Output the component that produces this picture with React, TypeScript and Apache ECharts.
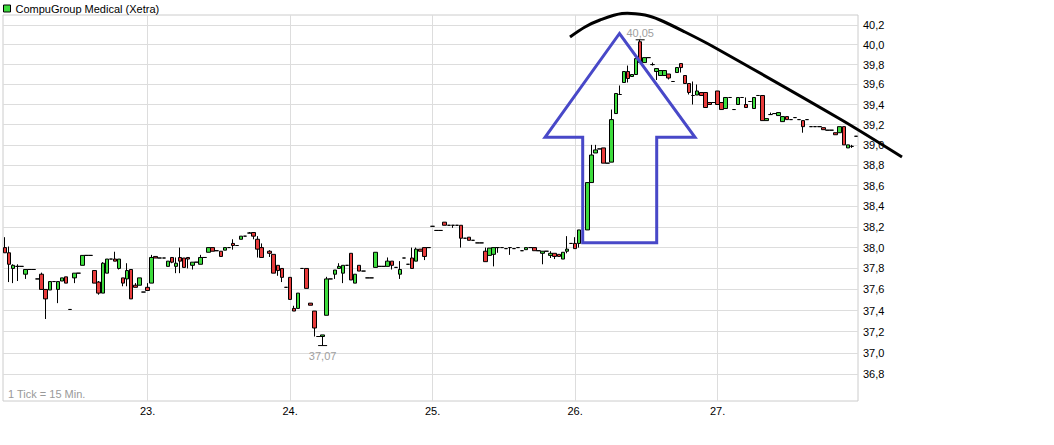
import React, { useEffect, useRef } from "react";
import * as echarts from "echarts";

const SERIES_NAME = "CompuGroup Medical (Xetra)";

// trading days (first one is not labelled on the axis)
const days = ["20.", "23.", "24.", "25.", "26.", "27."];
// 15-minute slots of one Xetra session
const times = [
  "09:00", "09:15", "09:30", "09:45", "10:00", "10:15", "10:30", "10:45",
  "11:00", "11:15", "11:30", "11:45", "12:00", "12:15", "12:30", "12:45",
  "13:00", "13:15", "13:30", "13:45", "14:00", "14:15", "14:30", "14:45",
  "15:00", "15:15", "15:30", "15:45", "16:00", "16:15", "16:30", "16:45",
  "17:00", "17:15", "17:30",
];

// price tick labels of the right axis
const yTicks = [36.8, 37.0, 37.2, 37.4, 37.6, 37.8, 38.0, 38.2, 38.4, 38.6, 38.8, 39.0, 39.2, 39.4, 39.6, 39.8, 40.0, 40.2];

// [open, close, low, high]
type C = number[] | "-";
const day20: C[] = [
  [38.0, 37.95, 37.95, 38.1], [37.95, 37.84, 37.67, 38.01], [37.8, 37.83, 37.66, 37.84], [37.82, 37.82, 37.68, 37.84],
  [37.82, 37.82, 37.82, 37.82], [37.745, 37.79, 37.7, 37.79], [37.79, 37.79, 37.79, 37.79], [37.79, 37.79, 37.79, 37.79],
  [37.7, 37.7, 37.7, 37.7], [37.745, 37.6, 37.6, 37.76], [37.6, 37.51, 37.32, 37.6], [37.595, 37.675, 37.595, 37.675],
  [37.675, 37.675, 37.675, 37.675], [37.6, 37.675, 37.47, 37.675], [37.68, 37.71, 37.68, 37.71], [37.72, 37.66, 37.66, 37.72],
  [37.41, 37.41, 37.41, 37.41], [37.71, 37.755, 37.66, 37.755], [37.755, 37.755, 37.755, 37.755], [37.83, 37.925, 37.83, 37.925],
  [37.925, 37.925, 37.925, 37.925], [37.925, 37.925, 37.925, 37.925], [37.78, 37.66, 37.66, 37.78], [37.67, 37.565, 37.55, 37.68],
  [37.565, 37.85, 37.565, 37.86], [37.755, 37.89, 37.755, 37.89], [37.89, 37.89, 37.89, 37.89], [37.89, 37.87, 37.87, 37.96],
  [37.8, 37.89, 37.79, 37.89], [37.71, 37.66, 37.63, 37.71], [37.7, 37.78, 37.63, 37.85], [37.79, 37.51, 37.51, 37.79],
  [37.64, 37.62, 37.62, 37.66], [37.64, 37.71, 37.64, 37.71], [37.575, 37.575, 37.575, 37.575],
];
const day23: C[] = [
  [37.62, 37.59, 37.59, 37.66], [37.66, 37.905, 37.66, 37.93], [37.915, 37.9, 37.9, 37.915], [37.9, 37.9, 37.9, 37.9],
  [37.9, 37.9, 37.9, 37.9], [37.82, 37.87, 37.82, 37.87], [37.905, 37.86, 37.85, 37.905], [37.82, 37.85, 37.755, 37.905],
  [37.905, 37.87, 37.755, 38.0], [37.9, 37.81, 37.81, 37.9], [37.905, 37.89, 37.8, 37.905], [37.83, 37.86, 37.79, 37.86],
  [37.86, 37.86, 37.86, 37.86], [37.84, 37.905, 37.84, 37.93], [37.905, 37.905, 37.905, 37.905], [37.955, 38.0, 37.955, 38.0],
  [38.0, 37.965, 37.965, 38.0], [37.97, 37.97, 37.97, 37.97], [37.965, 37.915, 37.915, 37.965], [37.975, 38.0, 37.975, 38.0],
  [38.0, 38.0, 38.0, 38.0], [38.04, 38.02, 37.98, 38.08], [38.02, 38.02, 38.02, 38.02], [38.08, 38.11, 38.08, 38.11],
  [38.11, 38.11, 38.11, 38.11], [38.14, 38.14, 38.14, 38.15], [38.145, 38.11, 38.08, 38.145], [38.08, 37.985, 37.905, 38.11],
  [38.0, 37.905, 37.905, 38.04], "-", [37.965, 37.945, 37.91, 37.975], [37.935, 37.755, 37.755, 37.935],
  [37.83, 37.78, 37.73, 37.83], [37.8, 37.715, 37.67, 37.8], [37.62, 37.62, 37.62, 37.62],
];
const day24: C[] = [
  [37.715, 37.505, 37.505, 37.715], [37.42, 37.395, 37.395, 37.445], [37.42, 37.565, 37.42, 37.565], [37.8, 37.8, 37.8, 37.8],
  [37.8, 37.61, 37.61, 37.8], [37.47, 37.45, 37.45, 37.47], [37.395, 37.235, 37.155, 37.395], [37.155, 37.155, 37.155, 37.155],
  [37.155, 37.17, 37.07, 37.17], [37.355, 37.7, 37.355, 37.72], [37.7, 37.7, 37.7, 37.7], [37.745, 37.785, 37.7, 37.785],
  [37.8, 37.82, 37.8, 37.85], [37.755, 37.83, 37.66, 37.83], [37.83, 37.83, 37.83, 37.83], [37.945, 37.69, 37.69, 37.945],
  [37.66, 37.745, 37.66, 37.745], [37.83, 37.775, 37.775, 37.83], [37.775, 37.775, 37.775, 37.775], [37.71, 37.71, 37.71, 37.71],
  [37.71, 37.71, 37.71, 37.71], [37.81, 37.955, 37.81, 37.955], [37.82, 37.82, 37.82, 37.82], [37.82, 37.82, 37.82, 37.82],
  [37.82, 37.87, 37.82, 37.905], [37.87, 37.83, 37.79, 37.87], [37.81, 37.81, 37.81, 37.81], [37.745, 37.79, 37.7, 37.87],
  [37.9, 37.9, 37.9, 37.9], [37.84, 37.84, 37.84, 37.84], [37.9, 37.8, 37.8, 38.0], [37.87, 37.985, 37.87, 38.0],
  [37.985, 37.965, 37.965, 37.985], [38.0, 37.915, 37.88, 38.0], [38.0, 38.0, 38.0, 38.0],
];
const day25: C[] = [
  [38.205, 38.205, 38.205, 38.205], [38.165, 38.165, 38.165, 38.165], [38.165, 38.165, 38.165, 38.165], [38.245, 38.215, 38.215, 38.245],
  [38.215, 38.215, 38.215, 38.215], [38.215, 38.215, 38.19, 38.215], [38.215, 38.215, 38.215, 38.215], [38.215, 38.09, 38.0, 38.215],
  [38.09, 38.09, 38.09, 38.09], [38.1, 38.07, 38.07, 38.1], [38.07, 38.07, 38.07, 38.07], [38.045, 38.045, 38.045, 38.045],
  [38.045, 38.045, 38.045, 38.045], [37.965, 37.865, 37.865, 38.0], [37.925, 37.995, 37.925, 37.995], [37.935, 38.0, 37.82, 38.0],
  [38.0, 38.0, 37.95, 38.0], [38.0, 38.0, 38.0, 38.0], [37.99, 37.99, 37.99, 37.99], [38.0, 38.0, 37.93, 38.0],
  [37.99, 37.99, 37.99, 37.99], [38.0, 38.0, 38.0, 38.0], [37.97, 37.97, 37.97, 37.97], [37.98, 38.0, 37.98, 38.0],
  [38.0, 38.0, 38.0, 38.0], [38.0, 37.97, 37.97, 38.0], [37.97, 37.97, 37.97, 37.97], [37.945, 37.965, 37.84, 37.965],
  [37.965, 37.965, 37.965, 37.965], [37.925, 37.945, 37.9, 37.965], [37.945, 37.915, 37.89, 37.945], [37.935, 37.915, 37.915, 37.935],
  [37.89, 37.955, 37.89, 37.955], [37.965, 37.985, 37.945, 38.11], [38.04, 38.04, 38.04, 38.04],
];
const day26: C[] = [
  [38.04, 37.99, 37.99, 38.1], [38.04, 38.17, 38.0, 38.17], "-", [38.17, 38.63, 38.17, 38.63],
  [38.63, 38.9, 38.63, 39.0], [38.92, 38.95, 38.92, 39.0], [38.96, 38.96, 38.96, 38.96], [38.97, 38.82, 38.82, 38.97],
  [38.82, 38.82, 38.82, 38.82], [38.83, 39.25, 38.83, 39.35], [39.31, 39.51, 39.31, 39.51], [39.5, 39.5, 39.5, 39.59],
  [39.62, 39.73, 39.62, 39.73], [39.73, 39.66, 39.62, 39.79], [39.68, 39.7, 39.68, 39.7], [39.7, 39.86, 39.7, 39.86],
  [40.03, 39.82, 39.82, 40.05], [39.82, 39.87, 39.82, 39.87], [39.87, 39.87, 39.87, 39.87], [39.8, 39.8, 39.79, 39.82],
  [39.73, 39.76, 39.645, 39.76], [39.69, 39.74, 39.69, 39.74], [39.69, 39.74, 39.69, 39.74], [39.705, 39.665, 39.65, 39.705],
  [39.63, 39.63, 39.63, 39.63], [39.72, 39.77, 39.72, 39.77], [39.81, 39.77, 39.72, 39.81], [39.69, 39.61, 39.61, 39.69],
  [39.61, 39.52, 39.5, 39.61], [39.49, 39.49, 39.4, 39.63], [39.495, 39.535, 39.495, 39.6], [39.52, 39.49, 39.49, 39.52],
  [39.52, 39.37, 39.37, 39.52], [39.42, 39.4, 39.4, 39.42], [39.42, 39.42, 39.42, 39.42],
];
const day27: C[] = [
  [39.535, 39.4, 39.4, 39.535], [39.42, 39.35, 39.35, 39.42], [39.36, 39.47, 39.36, 39.47], [39.47, 39.47, 39.47, 39.47],
  [39.35, 39.35, 39.35, 39.35], [39.4, 39.47, 39.4, 39.47], [39.47, 39.47, 39.47, 39.47], [39.4, 39.37, 39.37, 39.47],
  [39.43, 39.43, 39.43, 39.43], [39.36, 39.47, 39.36, 39.47], [39.49, 39.49, 39.49, 39.49], [39.49, 39.24, 39.24, 39.49],
  [39.24, 39.26, 39.24, 39.26], [39.3, 39.3, 39.3, 39.32], [39.31, 39.31, 39.31, 39.31], [39.29, 39.32, 39.29, 39.32],
  [39.23, 39.28, 39.23, 39.28], [39.28, 39.25, 39.25, 39.28], [39.25, 39.25, 39.25, 39.25], [39.27, 39.27, 39.27, 39.27],
  [39.25, 39.25, 39.25, 39.25], [39.24, 39.18, 39.12, 39.24], [39.25, 39.25, 39.25, 39.25], [39.18, 39.18, 39.18, 39.18],
  [39.18, 39.18, 39.18, 39.18], [39.18, 39.18, 39.18, 39.18], [39.17, 39.15, 39.15, 39.17], [39.145, 39.145, 39.145, 39.145],
  [39.145, 39.145, 39.145, 39.145], [39.12, 39.1, 39.1, 39.12], [39.12, 39.18, 39.12, 39.18], [39.18, 39.0, 39.0, 39.18],
  [38.97, 39.0, 38.97, 39.0], [38.985, 38.985, 38.97, 39.0], [39.085, 39.085, 39.085, 39.085],
];
const dayData = [day20, day23, day24, day25, day26, day27];

const UP = "#3ddc3d";
const DOWN = "#e83b3b";
const GRID_C = "#dddddd";
const FONT = 'Arial, "Liberation Sans", sans-serif';

export default function App() {
  const ref = useRef<HTMLDivElement>(null);
  useEffect(() => {
    document.body.style.margin = "0";
    if (!ref.current) return;
    const chart = echarts.init(ref.current, undefined, { renderer: "svg" });

    const categories: string[] = [];
    const dayStarts: number[] = [];
    days.forEach((d) => {
      dayStarts.push(categories.length);
      times.forEach((t) => categories.push(d + " " + t));
    });
    const data: C[] = ([] as C[]).concat(...dayData);

    let hiIdx = 0, loIdx = 0, hi = -Infinity, lo = Infinity;
    data.forEach((c, i) => {
      if (c === "-") return;
      if (c[3] > hi) { hi = c[3]; hiIdx = i; }
      if (c[2] < lo) { lo = c[2]; loIdx = i; }
    });
    const fmt = (v: number, d: number) => v.toFixed(d).replace(".", ",");
    const labelStarts = new Set(dayStarts.slice(1));

    const option: any = {
      animation: false,
      backgroundColor: "#ffffff",
      textStyle: { fontFamily: FONT },
      legend: {
        left: 3,
        top: 3,
        padding: 0,
        itemWidth: 7,
        itemHeight: 7,
        selectedMode: false,
        textStyle: { fontSize: 11, color: "#000", fontFamily: FONT },
        data: [{ name: SERIES_NAME, icon: "rect", itemStyle: { color: UP, borderColor: "#000", borderWidth: 1 } }],
      },
      grid: {
        left: 3,
        right: 196,
        top: 15,
        bottom: 44,
        show: true,
        borderColor: "#cccccc",
        borderWidth: 1,
        outerBoundsMode: "none",
      },
      xAxis: {
        type: "category",
        data: categories,
        boundaryGap: true,
        axisLine: { show: false },
        axisTick: { show: false },
        splitLine: { show: false },
        axisLabel: {
          interval: (i: number) => labelStarts.has(i),
          formatter: (v: string) => v.split(" ")[0],
          color: "#000",
          fontSize: 11,
          fontFamily: FONT,
          margin: 4,
        },
      },
      yAxis: {
        type: "log",
        logBase: 10,
        min: 36.554,
        max: 40.302,
        axisLine: { show: false },
        axisTick: { show: false },
        axisLabel: { show: false },
        splitLine: { show: false },
      },
      series: [
        {
          type: "candlestick",
          name: SERIES_NAME,
          data,
          barWidth: 4,
          clip: false,
          z: 3,
          itemStyle: {
            color: UP,
            color0: DOWN,
            borderColor: "#000",
            borderColor0: "#000",
            borderColorDoji: "#000",
            borderWidth: 1,
          },
          markLine: {
            silent: true,
            z: 1,
            symbol: ["none", "none"],
            lineStyle: { color: GRID_C, type: "solid", width: 1 },
            label: { show: false },
            data: [
              ...yTicks.map((v) => ({
                yAxis: v,
                label: {
                  show: true,
                  position: "end",
                  distance: 5,
                  formatter: fmt(v, 1),
                  color: "#000",
                  fontSize: 11,
                  fontFamily: FONT,
                },
              })),
              ...dayStarts.slice(1).map((i) => ({ xAxis: categories[i], label: { show: false } })),
            ],
          },
          markPoint: {
            silent: true,
            symbol: "rect",
            symbolSize: [9, 1],
            itemStyle: { color: "#000" },
            label: { show: true, color: "#a0a0a0", fontSize: 11, fontFamily: FONT },
            data: [
              { coord: [categories[hiIdx], hi], label: { position: "top", distance: 1, formatter: fmt(hi, 2) } },
              { coord: [categories[loIdx], lo], label: { position: "bottom", distance: 4, formatter: fmt(lo, 2) } },
            ],
          },
        },
      ],
      graphic: [
        {
          type: "text",
          left: 8,
          top: 388,
          z: 10,
          style: { text: "1 Tick = 15 Min.", fill: "#999", font: "11px " + FONT },
        },
        {
          type: "polygon",
          z: 100,
          shape: {
            points: [[545, 137.3], [619.5, 33.5], [695, 137.3], [656.7, 137.3], [656.7, 242.7], [582.7, 242.7], [582.7, 137.3]],
          },
          style: { fill: "none", stroke: "#4848c8", lineWidth: 3, lineJoin: "miter" },
        },
        {
          type: "polyline",
          z: 100,
          shape: {
            points: [[570, 37], [585, 27], [600, 20], [622, 13.5], [645, 15], [660, 20], [685, 32], [712, 46], [840, 119], [902, 157]],
            smooth: 0.3,
          },
          style: { fill: "none", stroke: "#000", lineWidth: 3 },
        },
      ],
    };
    chart.setOption(option);
    return () => chart.dispose();
  }, []);
  return <div ref={ref} style={{ width: 1054, height: 445 }} />;
}
